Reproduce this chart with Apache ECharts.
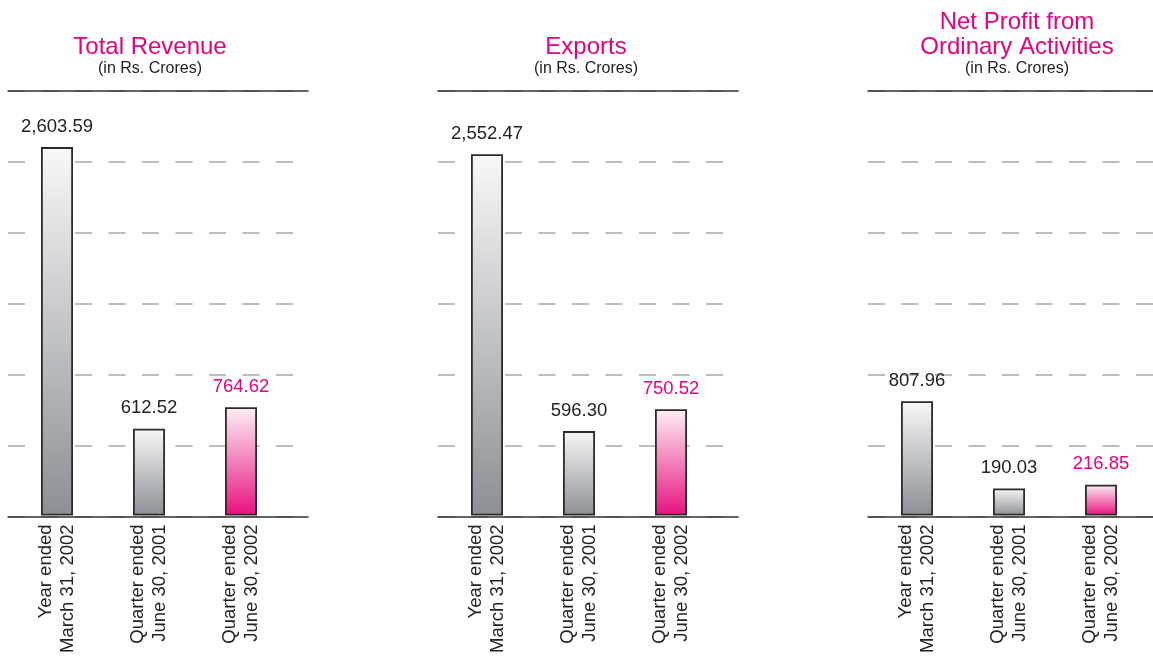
<!DOCTYPE html>
<html>
<head>
    <meta charset="utf-8">
    <title>Results</title>
    <script src="https://cdn.jsdelivr.net/npm/echarts@6/dist/echarts.min.js"></script>
    <style>
        html, body { margin: 0; padding: 0; background: #fff; }
    </style>
</head>
<body>
    <div id="main" style="width: 1153px;height:656px;"></div>
    <script type="text/javascript">
        var categories = ['Year ended\nMarch 31, 2002', 'Quarter ended\nJune 30, 2001', 'Quarter ended\nJune 30, 2002'];
        var revenue = [2603.59, 612.52, 764.62];
        var exportsVals = [2552.47, 596.30, 750.52];
        var netProfit = [807.96, 190.03, 216.85];
        var panelTitles = ['Total Revenue', 'Exports', 'Net Profit from\nOrdinary Activities'];
        var unitText = '(in Rs. Crores)';

        var PINK = '#e6007e';
        var FONT = 'Liberation Sans, Arial, Helvetica, sans-serif';

        var chart = echarts.init(document.getElementById('main'), null, {renderer: 'canvas'});

        var panelLeft = [8, 438, 868];
        var titleX = [150, 586, 1017];
        var seriesData = [revenue, exportsVals, netProfit];

        function fmt(v) {
            var s = v.toFixed(2).split('.');
            s[0] = s[0].replace(/\B(?=(\d{3})+(?!\d))/g, ',');
            return s.join('.');
        }

        function grayFill() {
            return new echarts.graphic.LinearGradient(0, 0, 0, 1, [
                {offset: 0, color: '#f8f8f8'},
                {offset: 1, color: '#8d8f94'}
            ]);
        }
        function pinkFill() {
            return new echarts.graphic.LinearGradient(0, 0, 0, 1, [
                {offset: 0, color: '#fdf0f5'},
                {offset: 1, color: '#e8117f'}
            ]);
        }

        var grids = [], xAxes = [], yAxes = [], series = [], titles = [];

        for (var p = 0; p < 3; p++) {
            var L = panelLeft[p];
            // rules: top line, baseline, dashed lines
            grids.push({left: L, width: 300, top: 91, height: 426});
            // bars
            grids.push({left: L + 3, width: 276, top: 91, height: 426});
            var gLine = p * 2, gBar = p * 2 + 1;

            xAxes.push({
                gridIndex: gLine, type: 'value', position: 'bottom', min: 0, max: 1,
                axisLine: {show: true, onZero: false, lineStyle: {color: '#333', width: 1.5}},
                axisTick: {show: false}, axisLabel: {show: false}, splitLine: {show: false}
            });
            xAxes.push({
                gridIndex: gLine, type: 'value', position: 'top', min: 0, max: 1,
                axisLine: {show: true, onZero: false, lineStyle: {color: '#333', width: 1.5}},
                axisTick: {show: false}, axisLabel: {show: false}, splitLine: {show: false}
            });
            yAxes.push({
                gridIndex: gLine, type: 'value', min: 0, max: 3000, interval: 500,
                axisLine: {show: false}, axisTick: {show: false}, axisLabel: {show: false},
                splitLine: {show: true, lineStyle: {color: '#a8a8a8', width: 1.5, type: [17, 16.5]}}
            });

            xAxes.push({
                gridIndex: gBar, type: 'category', data: categories,
                axisLine: {show: false}, axisTick: {show: false},
                axisLabel: {
                    rotate: 90, margin: 9, interval: 0,
                    fontFamily: FONT, fontSize: 18.5, lineHeight: 22, color: '#222'
                }
            });
            yAxes.push({
                gridIndex: gBar, type: 'value', min: 0, max: 3000, show: false
            });

            var vals = seriesData[p];
            series.push({
                type: 'bar',
                xAxisIndex: xAxes.length - 1,
                yAxisIndex: yAxes.length - 1,
                barWidth: 32,
                animation: false,
                data: vals.map(function (v, i) {
                    var last = i === vals.length - 1;
                    return {
                        value: v,
                        itemStyle: {color: last ? pinkFill() : grayFill(), borderColor: '#2b2b2b', borderWidth: 1.8},
                        label: {color: last ? PINK : '#222'}
                    };
                }),
                label: {
                    show: true, position: 'top', distance: 11,
                    fontFamily: FONT, fontSize: 18.5,
                    formatter: function (prm) { return fmt(prm.value); }
                }
            });

            var twoLine = panelTitles[p].indexOf('\n') >= 0;
            titles.push({
                text: panelTitles[p],
                subtext: unitText,
                left: titleX[p],
                textAlign: 'center',
                top: twoLine ? 9.5 : 34.5,
                padding: 0,
                itemGap: 0,
                textStyle: {color: PINK, fontFamily: FONT, fontSize: 24, fontWeight: 'normal', lineHeight: 25},
                subtextStyle: {color: '#222', fontFamily: FONT, fontSize: 16, lineHeight: 18}
            });
        }

        chart.setOption({
            animation: false,
            title: titles,
            grid: grids,
            xAxis: xAxes,
            yAxis: yAxes,
            series: series
        });
    </script>
</body>
</html>
